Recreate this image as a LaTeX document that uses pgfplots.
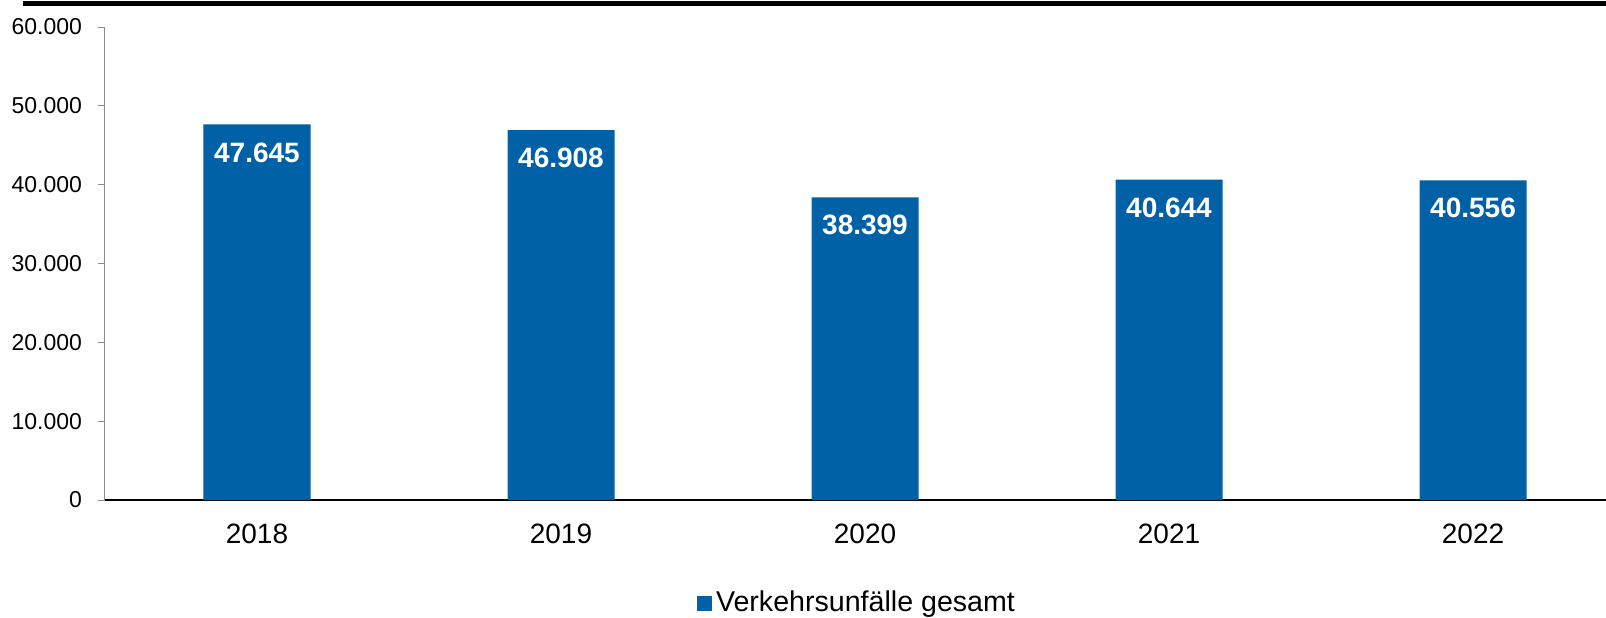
\documentclass[border=0pt]{standalone}
\usepackage{fontspec}
\setmainfont{Liberation Sans}
\usepackage{pgfplots}
\pgfplotsset{compat=1.18}
\definecolor{barblue}{RGB}{0,97,167}
\definecolor{axisgray}{RGB}{140,140,140}

\begin{document}
\begin{tikzpicture}
% picture frame: 1606 x 617 px at 0.5pt per px, origin = lower left of plot area
\clip (-52.5pt,-58.5pt) rectangle (750.5pt,250pt);
\draw[line width=2.5pt] (-41pt,248.25pt) -- (760pt,248.25pt);
\begin{axis}[
    at={(0,0)}, anchor=south west,
    scale only axis,
    width=750.5pt, height=236.5pt,
    xmin=-0.5, xmax=4.4375,
    ymin=0, ymax=60000,
    axis x line*=bottom,
    axis y line*=left,
    x axis line style={black, line width=1pt},
    y axis line style={axisgray, line width=0.5pt},
    xtick={0,1,2,3,4},
    xticklabels={2018,2019,2020,2021,2022},
    xtick style={draw=none},
    xticklabel style={font=\fontsize{14}{16}\selectfont, yshift=-5pt},
    ytick={0,10000,20000,30000,40000,50000,60000},
    ytick style={axisgray, line width=0.5pt},
    tick align=outside,
    major tick length=3.5pt,
    scaled y ticks=false,
    yticklabel style={font=\fontsize{11.5}{13}\selectfont, xshift=-4.5pt,
        /pgf/number format/1000 sep={.},
        /pgf/number format/assume math mode=true},
    ybar,
    bar width=53.5pt,
    nodes near coords,
    every node near coord/.append style={text=white, anchor=center, yshift=-14pt,
        font=\bfseries\fontsize{14}{16}\selectfont,
        /pgf/number format/1000 sep={.},
        /pgf/number format/assume math mode=true},
    legend style={at={(0.5,0)}, anchor=center, xshift=1.25pt, yshift=-51.5pt,
        draw=none, fill=none, font=\fontsize{14.3}{16}\selectfont,
        /tikz/every even column/.append style={column sep=0pt}},
    legend image code/.code={\fill[#1] (0pt,-3.75pt) rectangle (7.5pt,3.75pt);},
]
\addplot[fill=barblue, draw=none] coordinates {
    (0,47645) (1,46908) (2,38399) (3,40644) (4,40556)
};
\legend{Verkehrsunfälle gesamt}
\end{axis}
\end{tikzpicture}
\end{document}
